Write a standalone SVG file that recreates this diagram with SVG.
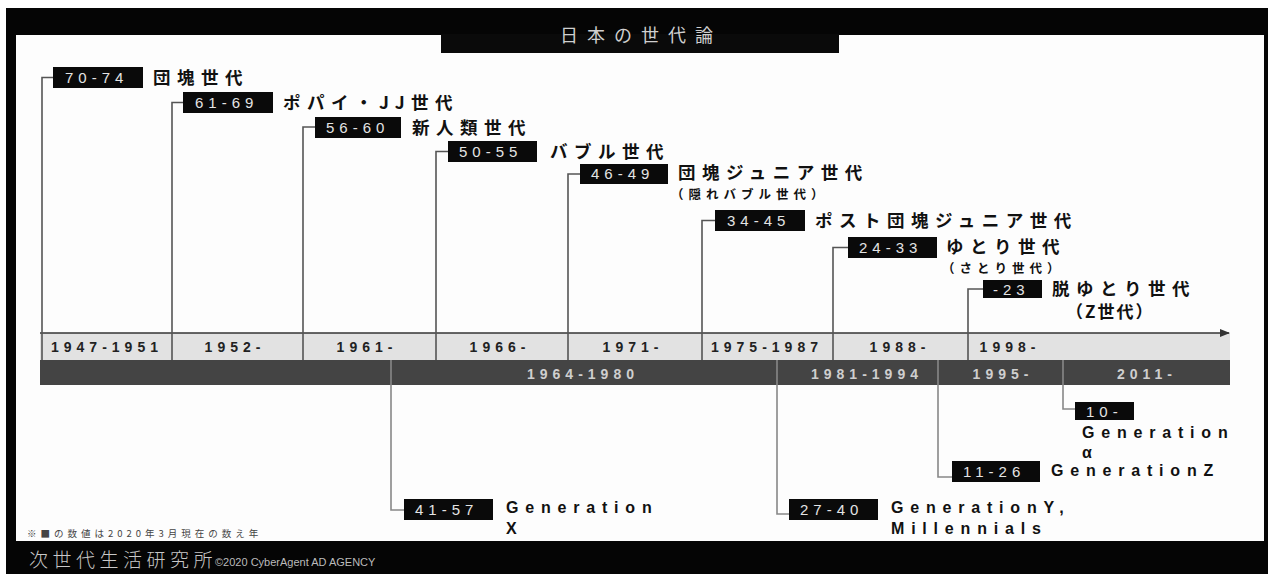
<svg xmlns="http://www.w3.org/2000/svg" width="1268" height="574" viewBox="0 0 1268 574">
<defs>
<style>
.box{fill:#0a0a0a}
.num{font-family:"Liberation Sans",Arial,sans-serif;font-size:15px;fill:#e4e4e4;letter-spacing:5px}
.jp{font-family:"Noto Sans CJK JP","Noto Sans",sans-serif;font-weight:bold;font-size:17.5px;fill:#111;letter-spacing:6.5px}
.sub{font-family:"Noto Sans CJK JP","Noto Sans",sans-serif;font-weight:bold;font-size:12.5px;fill:#111;letter-spacing:5px}
.en{font-family:"Liberation Sans",Arial,sans-serif;font-weight:bold;font-size:16px;fill:#111;letter-spacing:6.8px}
.yr{font-family:"Liberation Sans",Arial,sans-serif;font-weight:bold;font-size:14px;fill:#222;letter-spacing:5px;text-anchor:middle}
.yr2{font-family:"Liberation Sans",Arial,sans-serif;font-weight:bold;font-size:14px;fill:#cfcfcf;letter-spacing:5px;text-anchor:middle}
.ln{fill:none;stroke:#555;stroke-width:1.6}
.ln2{fill:none;stroke:#888;stroke-width:1.6}
</style>
<marker id="arr" markerWidth="10" markerHeight="8" refX="9" refY="4" orient="auto" markerUnits="userSpaceOnUse">
<path d="M0,0 L10,4 L0,8 Z" fill="#333"/>
</marker>
</defs>

<!-- frame -->
<rect x="0" y="0" width="1268" height="574" fill="#ffffff"/>
<rect x="6" y="8" width="1262" height="566" fill="#050505"/>
<rect x="16" y="35" width="1248" height="506" fill="#fdfdfd"/>
<rect x="441" y="34" width="398" height="19" fill="#0a0a0a"/>
<text x="641" y="42" text-anchor="middle" font-family="'Noto Sans CJK JP','Noto Sans',sans-serif" font-size="18" fill="#cfcfcf" letter-spacing="9">日本の世代論</text>

<!-- timeline bands -->
<g id="timeline">
<rect x="40" y="333" width="1190" height="27" fill="#e2e2e2"/>
<rect x="40" y="360" width="1190" height="25" fill="#444444"/>
<line x1="40" y1="333" x2="1229" y2="333" stroke="#333" stroke-width="1.6" marker-end="url(#arr)"/>
<text class="yr" x="107" y="352">1947-1951</text>
<text class="yr" x="235" y="352">1952-</text>
<text class="yr" x="367" y="352">1961-</text>
<text class="yr" x="500" y="352">1966-</text>
<text class="yr" x="633" y="352">1971-</text>
<text class="yr" x="767" y="352">1975-1987</text>
<text class="yr" x="900" y="352">1988-</text>
<text class="yr" x="1010" y="352">1998-</text>
<text class="yr2" x="583" y="379">1964-1980</text>
<text class="yr2" x="867" y="379">1981-1994</text>
<text class="yr2" x="1003" y="379">1995-</text>
<text class="yr2" x="1147" y="379">2011-</text>
</g>

<!-- connectors -->
<g id="connectors">
<path class="ln" d="M53,77.5 H42 V360"/>
<path class="ln" d="M183,102.5 H172 V360"/>
<path class="ln" d="M315,127 H303 V360"/>
<path class="ln" d="M448,151.5 H436 V360"/>
<path class="ln" d="M580,174 H568 V360"/>
<path class="ln" d="M715,220.5 H702 V360"/>
<path class="ln" d="M848,247.5 H833 V360"/>
<path class="ln" d="M983,289 H968 V360"/>
<path class="ln2" d="M391,360 V510 H404"/>
<path class="ln2" d="M777,360 V514 H789"/>
<path class="ln2" d="M938,360 V477 H952"/>
<path class="ln2" d="M1063,360 V409 H1075"/>
</g>

<!-- upper nodes -->
<g id="n-dankai">
<rect class="box" x="53" y="67" width="90" height="21"/>
<text class="num" x="65" y="83">70-74</text>
<text class="jp" x="153" y="84">団塊世代</text>
</g>
<g id="n-popeye">
<rect class="box" x="183" y="92" width="90" height="21"/>
<text class="num" x="195" y="108">61-69</text>
<text class="jp" x="283" y="109">ポパイ・JJ世代</text>
</g>
<g id="n-shinjinrui">
<rect class="box" x="315" y="117" width="86" height="21"/>
<text class="num" x="326" y="133">56-60</text>
<text class="jp" x="412" y="134">新人類世代</text>
</g>
<g id="n-bubble">
<rect class="box" x="448" y="141" width="89" height="21"/>
<text class="num" x="459" y="157">50-55</text>
<text class="jp" x="550" y="158">バブル世代</text>
</g>
<g id="n-dankaijr">
<rect class="box" x="580" y="164" width="88" height="20"/>
<text class="num" x="591" y="179">46-49</text>
<text class="jp" x="678" y="178.5">団塊ジュニア世代</text>
<text class="sub" x="671" y="199">（隠れバブル世代）</text>
</g>
<g id="n-postdankaijr">
<rect class="box" x="715" y="210" width="90" height="21"/>
<text class="num" x="727" y="226">34-45</text>
<text class="jp" x="815" y="227">ポスト団塊ジュニア世代</text>
</g>
<g id="n-yutori">
<rect class="box" x="848" y="237" width="89" height="21"/>
<text class="num" x="859" y="253">24-33</text>
<text class="jp" x="946" y="253">ゆとり世代</text>
<text class="sub" x="942" y="273">（さとり世代）</text>
</g>
<g id="n-datsuyutori">
<rect class="box" x="983" y="280" width="59" height="18"/>
<text class="num" x="993" y="295">-23</text>
<text class="jp" x="1052" y="295">脱ゆとり世代</text>
<text class="jp" x="1066" y="318" style="letter-spacing:2px;font-size:17px">（Z世代）</text>
</g>

<!-- lower nodes -->
<g id="n-genx">
<rect class="box" x="404" y="499" width="89" height="21"/>
<text class="num" x="415" y="515">41-57</text>
<text class="en" x="506" y="513">Generation</text>
<text class="en" x="506" y="534">X</text>
</g>
<g id="n-geny">
<rect class="box" x="789" y="499" width="89" height="21"/>
<text class="num" x="800" y="515">27-40</text>
<text class="en" x="891" y="513">GenerationY,</text>
<text class="en" x="891" y="534">Millennials</text>
</g>
<g id="n-genz">
<rect class="box" x="952" y="461" width="88" height="21"/>
<text class="num" x="963" y="477">11-26</text>
<text class="en" x="1051" y="476">GenerationZ</text>
</g>
<g id="n-genalpha">
<rect class="box" x="1075" y="402" width="59" height="18"/>
<text class="num" x="1086" y="417">10-</text>
<text class="en" x="1082" y="438">Generation</text>
<text class="en" x="1082" y="458">α</text>
</g>

<!-- notes / footer -->
<text x="27" y="537" font-family="'Noto Sans CJK JP','Noto Sans',sans-serif" font-size="9.5" fill="#444" letter-spacing="4">※■の数値は2020年3月現在の数え年</text>
<text x="29" y="567" font-family="'Noto Sans CJK JP','Noto Sans',sans-serif" font-size="19" font-weight="300" fill="#c8c8c8" letter-spacing="4.5">次世代生活研究所</text>
<text x="215" y="566" font-family="'Liberation Sans',Arial,sans-serif" font-size="11" fill="#bbbbbb">©2020 CyberAgent AD AGENCY</text>
</svg>
